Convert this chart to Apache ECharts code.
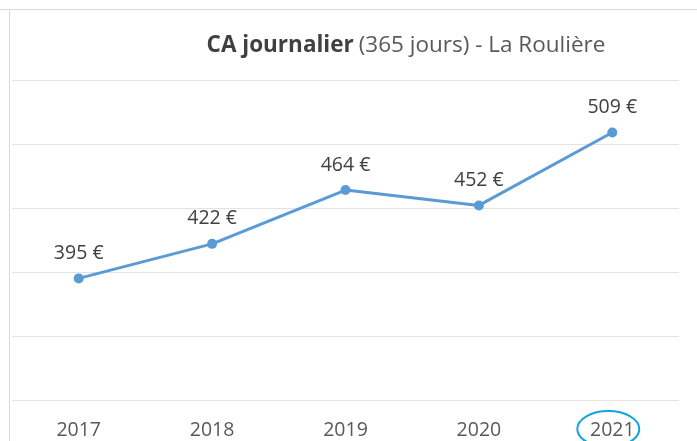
<!DOCTYPE html>
<html>
<head>
<meta charset="utf-8">
<script src="https://cdn.jsdelivr.net/npm/echarts@6/dist/echarts.min.js"></script>
<style>
  html, body { margin: 0; padding: 0; background: #fff; }
  #chart { width: 697px; height: 441px; }
</style>
</head>
<body>
<div id="chart"></div>
<script>
  var years = ['2017', '2018', '2019', '2020', '2021'];
  var caJour = [395, 422, 464, 452, 509];
  var yMin = 300, yMax = 550, yStep = 50;

  var chart = echarts.init(document.getElementById('chart'));
  var font = 'Open Sans, Noto Sans, sans-serif';

  var option = {
    animation: false,
    title: {
      text: '{b|CA journalier} {n|(365 jours) - La Roulière}',
      left: 401,
      textAlign: 'center',
      top: 29,
      textStyle: {
        rich: {
          b: { fontFamily: font, fontSize: 22.5, fontWeight: 'bold', color: '#404040' },
          n: { fontFamily: font, fontSize: 22.5, fontWeight: 'normal', color: '#595959' }
        }
      }
    },
    grid: { left: 12, right: 18, top: 80, bottom: 41 },
    xAxis: {
      type: 'category',
      data: years,
      boundaryGap: true,
      axisLine: { show: false },
      axisTick: { show: false },
      axisLabel: { fontFamily: font, fontSize: 19.5, color: '#595959', margin: 20 }
    },
    yAxis: {
      type: 'value',
      min: yMin,
      max: yMax,
      interval: yStep,
      axisLabel: { show: false },
      axisLine: { show: false },
      axisTick: { show: false },
      splitLine: { lineStyle: { color: '#e3e3e3', width: 1 } }
    },
    series: [{
      type: 'line',
      data: caJour,
      symbol: 'circle',
      symbolSize: 10,
      lineStyle: { color: '#5b9bd5', width: 3 },
      itemStyle: { color: '#5b9bd5' },
      label: {
        show: true,
        position: 'top',
        distance: 10,
        fontFamily: font,
        fontSize: 19.5,
        color: '#404040',
        formatter: function (p) { return p.value + ' €'; }
      }
    }]
  };
  chart.setOption(option);

  // bordures de la zone et cercle autour de 2021
  var cx = chart.convertToPixel({ xAxisIndex: 0 }, '2021');
  chart.setOption({
    graphic: [
      { type: 'line', shape: { x1: 0, y1: 9.5, x2: 697, y2: 9.5 }, style: { stroke: '#d9d9d9', lineWidth: 1 } },
      { type: 'line', shape: { x1: 9.5, y1: 9, x2: 9.5, y2: 441 }, style: { stroke: '#d9d9d9', lineWidth: 1 } },
      { type: 'ellipse', shape: { cx: cx - 4, cy: 429, rx: 31, ry: 18 }, style: { fill: 'none', stroke: '#12a4e0', lineWidth: 2 } }
    ]
  });
</script>
</body>
</html>
